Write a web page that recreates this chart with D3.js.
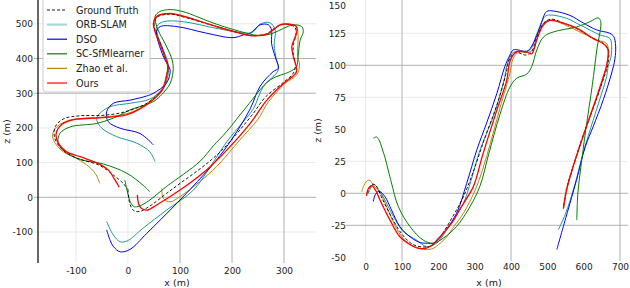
<!DOCTYPE html>
<html>
<head>
<meta charset="utf-8">
<script src="https://cdn.jsdelivr.net/npm/d3@7"></script>
<style>
  body { margin: 0; background: #fff; }
  svg { font-family: "DejaVu Sans", sans-serif; }
</style>
</head>
<body>
<svg id="chart" width="630" height="288"></svg>
<script>
// series names + colours
const methods = ['Ground Truth', 'ORB-SLAM', 'DSO', 'SC-SfMlearner', 'Zhao et al.', 'Ours'];
const colors = ['#000000', '#1c9a9a', '#0000ff', '#008000', '#b8860b', '#ff0000'];
const legendColors = ['#000000', '#a6dada', '#0000ff', '#008000', '#b8860b', '#ff0000'];

// left sequence (x, z) in metres
const leftGT = [[0,22],[3,-15],[10,-37],[22,-41],[45,-22],[74,11],[100,40],[148,93],[180,135],[210,185],[240,240],[265,290],[298,330],[318,358],[322,385],[318,410],[318,440],[323,470],[321,490],[307,498],[290,495],[277,482],[265,470],[237,466],[215,473],[170,492],[106,520],[81,528],[57,520],[50,500],[53,477],[62,445],[71,407],[77,377],[74,346],[67,313],[48,283],[30,266],[-9,245],[-50,236],[-92,235],[-124,226],[-140,203],[-141,172],[-128,140],[-99,113],[-56,93],[-28,64],[-9,40],[0,22]];
const leftORB = [[-41,-70],[-28,-109],[-15,-128],[-2,-126],[29,-89],[74,-37],[126,21],[158,88],[190,160],[220,215],[241,255],[260,319],[289,367],[285,400],[281,439],[283,482],[273,503],[254,499],[241,477],[228,473],[170,487],[106,506],[68,506],[55,492],[58,463],[68,425],[77,386],[77,352],[68,314],[42,283],[4,271],[-35,261],[-57,237],[-60,223],[-50,199],[-22,175],[17,156],[42,131],[52,103]];
const leftDSO = [[-41,-94],[-34,-125],[-28,-142],[-15,-157],[4,-150],[36,-104],[94,-17],[145,64],[170,107],[200,168],[235,255],[254,320],[279,362],[289,372],[283,405],[276,444],[276,482],[270,497],[254,497],[235,473],[222,468],[202,460],[151,473],[94,492],[62,492],[55,477],[61,434],[71,396],[81,367],[74,329],[49,300],[36,292],[4,280],[-28,271],[-41,247],[-38,218],[-15,199],[23,184],[49,151]];
const leftSC = [[-6,50],[-1,15],[5,-15],[12,-27],[22,-25],[40,-10],[74,31],[138,103],[164,148],[190,190],[228,261],[273,338],[311,362],[324,376],[327,405],[331,453],[337,477],[334,492],[318,497],[299,487],[279,473],[254,466],[228,473],[170,499],[106,535],[81,541],[61,535],[52,521],[58,482],[71,444],[84,400],[87,372],[81,328],[55,282],[42,271],[4,252],[-22,232],[-60,213],[-111,203],[-131,184],[-134,156],[-118,127],[-86,107],[-47,96],[-2,69],[29,35],[42,16]];
const leftZhao = [[65,26],[68,-3],[81,-13],[100,2],[138,45],[170,88],[215,165],[250,225],[270,275],[302,328],[324,352],[330,380],[326,410],[327,450],[326,482],[322,494],[308,500],[292,496],[279,482],[267,471],[235,467],[215,474],[170,493],[106,521],[80,528],[56,520],[50,500],[53,477],[61,445],[70,408],[76,378],[73,347],[66,315],[48,285],[22,256],[-5,240],[-50,231],[-79,228],[-111,223],[-137,203],[-145,180],[-140,156],[-124,131],[-105,117],[-79,93],[-63,69],[-54,40]];
const leftOurs = [[18,7],[23,-27],[36,-37],[55,-22],[100,21],[151,79],[190,136],[235,213],[267,280],[299,328],[324,362],[318,405],[315,434],[324,473],[324,492],[308,499],[292,497],[279,482],[267,470],[235,466],[215,473],[170,492],[106,522],[81,530],[55,521],[49,501],[52,477],[61,444],[71,405],[77,376],[74,347],[68,314],[49,282],[23,255],[-5,237],[-55,229],[-99,225],[-126,211],[-138,184],[-134,156],[-118,131],[-92,117],[-58,98],[-38,79],[-25,50],[-17,29]];

// right sequence (x, z) in metres
const rightGT = [[5,0],[18,7],[28,6],[45,-4],[70,-18],[100,-32],[130,-40],[160,-42],[180,-41],[205,-34],[240,-18],[270,-2],[300,20],[330,45],[360,68],[385,92],[398,106],[415,110],[440,108],[455,110],[470,121],[490,133],[510,136],[545,133],[585,128],[625,121],[655,117],[668,112],[666,100],[655,90],[636,74],[615,58],[592,40],[570,20],[553,4],[545,-10]];
const rightORB = [[7,0],[12,3],[20,6.5],[26,6.5],[35,3],[48,-2.6],[76,-18],[104,-30],[140,-36.5],[168,-41.7],[195,-39],[220,-30],[245,-19],[269,-7.8],[290,10],[306,26],[315,34],[351,60],[379,86],[392,103],[406,110],[430,111],[452,112],[471,124.5],[493,138],[507,139.3],[553,136.7],[590,131.5],[645,123.7],[672,121],[677,114.5],[675,106],[668,100],[663,91],[645,74],[626,57],[600,33],[575,6],[550,-16],[530,-28.7]];
const rightDSO = [[21,-6.5],[25,-2],[32,1],[39,1.3],[53,-2.6],[71,-13],[94,-26],[122,-34],[150,-38.5],[170,-39],[186,-39],[200,-35],[214,-31],[250,-15.6],[278,7.8],[306,34],[333,55],[361,78],[383,99],[397,108],[406,112],[420,112],[443,110.6],[461,117],[480,130],[498,142],[516,142.4],[562,139],[599,133],[636,127.6],[672,125],[683,122.3],[688,115],[686,105],[677,94],[654,73],[626,52],[604,36],[580,10],[555,-15],[526,-44]];
const rightSC = [[21,43],[30,44],[38,41],[44,36],[53,28],[62,18],[71,8],[90,-10.5],[122,-26],[158,-36.5],[186,-39],[214,-35],[250,-26],[287,-10.5],[315,6],[338,30],[370,62],[397,83],[416,90],[443,93],[457,99],[471,112],[489,122],[516,126],[581,130],[617,134],[640,137],[647,134],[636,112],[624,85],[606,50],[592,20],[584,0],[581,-21]];
const rightZhao = [[-11,1],[-5,6],[5,10],[12,10],[22,6],[39,1],[60,-12],[90,-30],[120,-40],[150,-43],[168,-44],[186,-43],[205,-39],[223,-34],[245,-25],[269,-15.6],[305,5],[333,29],[370,67],[397,93.7],[406,105.5],[420,110],[445,110],[460,112],[473,122],[490,133],[508,135.5],[545,132],[590,126],[636,119.8],[663,117],[668,111],[662,98],[652,88],[634,73],[614,57],[593,40],[570,20],[554,3],[545,-12]];
const rightOurs = [[2,-2],[8,4],[16,6],[28,2],[39,-5],[67,-21],[94,-34],[122,-40],[145,-43],[165,-43],[180,-41],[200,-36],[214,-31],[240,-22],[260,-12],[296,5],[322,30],[361,65],[388,88],[398,104],[415,110.5],[443,110.5],[457,109],[471,120],[489,131.5],[507,135],[544,133],[581,129],[626,121],[658,116],[667,112],[664,101],[654,91],[636,75.5],[617,60],[595,41.5],[571,21],[553,3],[544,-12]];

// ticks and grid lines
const leftXTicks = [-100, 0, 100, 200, 300];
const leftYTicks = [-100, 0, 100, 200, 300, 400, 500];
const rightXTicks = [0, 100, 200, 300, 400, 500, 600, 700];
const rightYTicks = [-50, -25, 0, 25, 50, 75, 100, 125, 150];
const leftXGridDark = [100, 200, 300], leftXGridLight = [-100, 0];
const leftYGridDark = [0, 300, 400], leftYGridLight = [-100, 100, 200, 500];
const rightXGridDark = [100, 400, 700], rightXGridLight = [0];
const rightYGridDark = [-25, 0, 100], rightYGridLight = [25, 75, 125];

const svg = d3.select('#chart');

const panels = [
  {
    id: 'l', data: [leftGT, leftORB, leftDSO, leftSC, leftZhao, leftOurs],
    x: d3.scaleLinear().domain([-173, 361.5]).range([38, 316]),
    y: d3.scaleLinear().domain([-189.3, 568.6]).range([263, 0]),
    xTicks: leftXTicks, yTicks: leftYTicks,
    xDark: leftXGridDark, xLight: leftXGridLight, yDark: leftYGridDark, yLight: leftYGridLight,
    spine: true, ylabelX: 7, xPad: 5, yPad: 1
  },
  {
    id: 'r', data: [rightGT, rightORB, rightDSO, rightSC, rightZhao, rightOurs],
    x: d3.scaleLinear().domain([-43.2, 722]).range([350, 628]),
    y: d3.scaleLinear().domain([-52.9, 151]).range([261, 0]),
    xTicks: rightXTicks, yTicks: rightYTicks,
    xDark: rightXGridDark, xLight: rightXGridLight, yDark: rightYGridDark, yLight: rightYGridLight,
    spine: false, ylabelX: 318, xPad: 3, yPad: 0
  }
];

const drawOrder = [4, 1, 2, 3, 0, 5];

panels.forEach(p => {
  const [x0, x1] = p.x.range();
  const [y1, y0] = p.y.range();
  const g = svg.append('g');

  g.append('clipPath').attr('id', 'clip-' + p.id)
    .append('rect').attr('x', x0).attr('y', y0).attr('width', x1 - x0).attr('height', y1 - y0);

  // grid (light first, dark on top); horizontal lines stick out a bit like ticks
  const grid = (vals, col, horiz) => g.selectAll(null).data(vals).enter().append('line')
    .attr('x1', d => horiz ? x0 - 4 : p.x(d)).attr('x2', d => horiz ? x1 : p.x(d))
    .attr('y1', d => horiz ? p.y(d) : y0).attr('y2', d => horiz ? p.y(d) : y1)
    .attr('stroke', col).attr('stroke-width', 1);
  grid(p.xLight, '#e9e9e9', false);
  grid(p.yLight, '#e9e9e9', true);
  grid(p.xDark, '#b0b0b0', false);
  grid(p.yDark, '#b0b0b0', true);

  // tick labels via axes
  const ax = g.append('g').attr('transform', `translate(0,${y1})`)
    .call(d3.axisBottom(p.x).tickValues(p.xTicks).tickSize(0).tickPadding(p.xPad).tickFormat(d3.format('d')));
  const ay = g.append('g').attr('transform', `translate(${x0 - 4},0)`)
    .call(d3.axisLeft(p.y).tickValues(p.yTicks).tickSize(0).tickPadding(p.yPad).tickFormat(d3.format('d')));
  [ax, ay].forEach(a => {
    a.select('.domain').remove();
    a.selectAll('text').attr('font-size', 9).attr('fill', '#222')
      .attr('font-family', '"DejaVu Sans", sans-serif')
      .text(d => d < 0 ? '-' + Math.abs(d) : d);
  });
  // keep a label that sits right on the top edge readable
  ay.selectAll('.tick').filter(d => p.y(d) < 5).select('text').attr('y', 4);

  if (p.spine) {
    g.append('line').attr('x1', x0).attr('x2', x0).attr('y1', y0).attr('y2', y1)
      .attr('stroke', '#000').attr('stroke-width', 1.2);
  }

  const line = d3.line().x(d => p.x(d[0])).y(d => p.y(d[1])).curve(d3.curveCatmullRom.alpha(0.5));
  const paths = g.append('g').attr('clip-path', `url(#clip-${p.id})`);
  drawOrder.forEach(i => {
    paths.append('path').attr('d', line(p.data[i]))
      .attr('fill', 'none').attr('stroke', colors[i])
      .attr('stroke-width', i === 0 ? 0.9 : (i === 5 ? 1.3 : 1.0))
      .attr('stroke-dasharray', i === 0 ? '3,2' : null);
  });

  g.append('text').attr('x', (x0 + x1) / 2).attr('y', 286).attr('text-anchor', 'middle')
    .attr('font-size', 9.5).attr('fill', '#222').text('x (m)');
  g.append('text').attr('transform', `translate(${p.ylabelX},${(y0 + y1) / 2}) rotate(-90)`)
    .attr('text-anchor', 'middle').attr('dominant-baseline', 'middle')
    .attr('font-size', 9.5).attr('fill', '#222').text('z (m)');
});

// legend in left panel
const lg = svg.append('g');
lg.append('rect').attr('x', 43).attr('y', -3).attr('width', 107).attr('height', 95).attr('rx', 3)
  .attr('fill', '#fff').attr('fill-opacity', 0.85).attr('stroke', '#cccccc').attr('stroke-width', 1);
methods.forEach((m, i) => {
  const yy = 10 + i * 14.6;
  lg.append('line').attr('x1', 47).attr('x2', 67).attr('y1', yy).attr('y2', yy)
    .attr('stroke', legendColors[i]).attr('stroke-width', i === 1 ? 2.2 : (i === 0 ? 0.9 : 1.2))
    .attr('stroke-dasharray', i === 0 ? '3,2' : null);
  lg.append('text').attr('x', 76).attr('y', yy).attr('dominant-baseline', 'central')
    .attr('font-size', 9.6).attr('fill', '#222').text(m);
});
</script>
</body>
</html>
